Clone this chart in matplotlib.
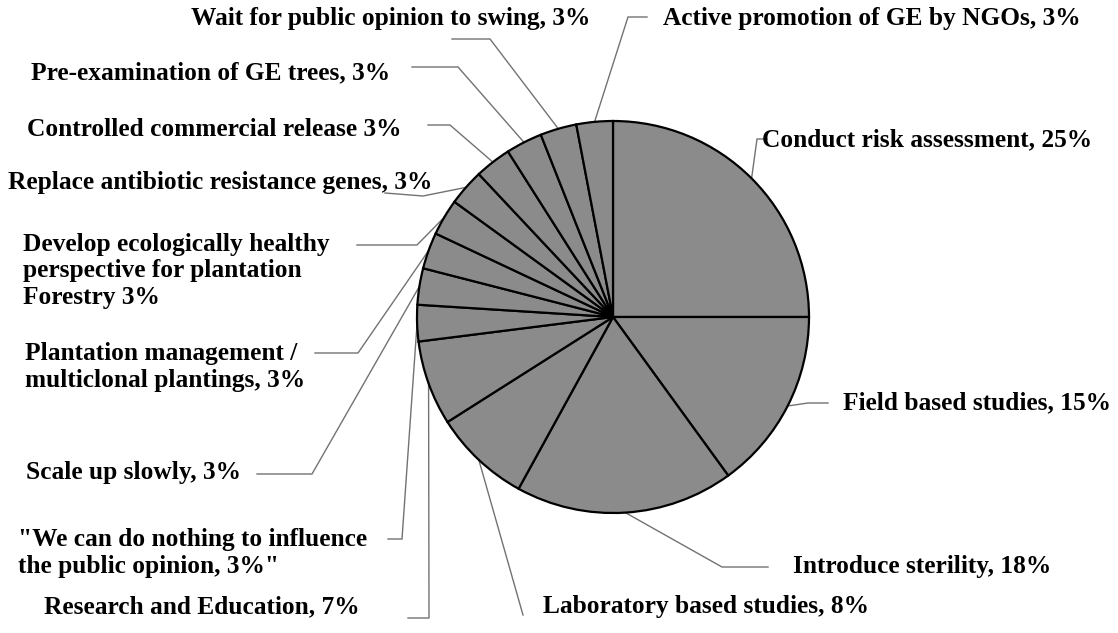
import numpy as np
import matplotlib
matplotlib.use("Agg")
import matplotlib.pyplot as plt

# Share of responses per suggested strategy (percent), clockwise from the top
categories = [
    "Conduct risk assessment",
    "Field based studies",
    "Introduce sterility",
    "Laboratory based studies",
    "Research and Education",
    "We can do nothing to influence the public opinion",
    "Scale up slowly",
    "Plantation management / multiclonal plantings",
    "Develop ecologically healthy perspective for plantation Forestry",
    "Replace antibiotic resistance genes",
    "Controlled commercial release",
    "Pre-examination of GE trees",
    "Wait for public opinion to swing",
    "Active promotion of GE by NGOs",
]
shares = [25, 15, 18, 8, 7, 3, 3, 3, 3, 3, 3, 3, 3, 3]

label_texts = [
    "Conduct risk assessment, 25%",
    "Field based studies, 15%",
    "Introduce sterility, 18%",
    "Laboratory based studies, 8%",
    "Research and Education, 7%",
    "\"We can do nothing to influence\nthe public opinion, 3%\"",
    "Scale up slowly, 3%",
    "Plantation management /\nmulticlonal plantings, 3%",
    "Develop ecologically healthy\nperspective for plantation\nForestry 3%",
    "Replace antibiotic resistance genes, 3%",
    "Controlled commercial release 3%",
    "Pre-examination of GE trees, 3%",
    "Wait for public opinion to swing, 3%",
    "Active promotion of GE by NGOs, 3%",
]

# Label placement: text anchor (x, y, ha) and leader-line bend points (pixel frame, y down)
label_layout = [
    dict(xy=(762, 140), ha="left", bends=[(757, 139), (767, 139)]),
    dict(xy=(843, 403), ha="left", bends=[(808, 403), (828, 403)]),
    dict(xy=(793, 567), ha="left", bends=[(722, 567), (768, 567)]),
    dict(xy=(543, 607), ha="left", bends=[(523, 615)]),
    dict(xy=(360, 607), ha="right", bends=[(429, 618), (408, 618)]),
    dict(xy=(18, 553), ha="left", bends=[(402, 539), (388, 539)]),
    dict(xy=(26, 473), ha="left", bends=[(312, 474), (257, 474)]),
    dict(xy=(25, 367), ha="left", bends=[(358, 353), (315, 353)]),
    dict(xy=(23, 271), ha="left", bends=[(417, 245), (357, 245)]),
    dict(xy=(8, 183), ha="left", bends=[(423, 196), (385, 193)]),
    dict(xy=(27, 130), ha="left", bends=[(450, 125), (428, 125)]),
    dict(xy=(31, 73), ha="left", bends=[(458, 67), (412, 67)]),
    dict(xy=(590, 18), ha="right", bends=[(490, 39), (452, 39)]),
    dict(xy=(663, 18), ha="left", bends=[(628, 17), (647, 17)]),
]

W, H = 1118, 633
fig = plt.figure(figsize=(W / 100, H / 100), dpi=100)
ax = fig.add_axes([0, 0, 1, 1])

cx, cy, radius = 613, 317, 196
wedges, _ = ax.pie(
    shares,
    center=(cx, cy),
    radius=radius,
    startangle=-90,
    counterclock=True,
    colors=["#8b8b8b"] * len(shares),
    wedgeprops=dict(edgecolor="black", linewidth=1.6),
    frame=True,
)
ax.set_xlim(0, W)
ax.set_ylim(H, 0)
ax.set_aspect("auto")
ax.axis("off")

font = dict(family=["Liberation Serif", "DejaVu Serif"], weight="bold", size=18.3)

for w, text, lay in zip(wedges, label_texts, label_layout):
    mid = np.deg2rad((w.theta1 + w.theta2) / 2)
    ex, ey = cx + radius * np.cos(mid), cy + radius * np.sin(mid)
    pts = [(ex, ey)] + lay["bends"]
    xs, ys = zip(*pts)
    ax.plot(xs, ys, color="#727272", lw=1.0, zorder=0.5, solid_joinstyle="miter")
    ax.text(lay["xy"][0], lay["xy"][1], text, ha=lay["ha"], va="center",
            multialignment="left", linespacing=1.2, color="black", **font)

fig.savefig("out.png", dpi=100, facecolor="white")
